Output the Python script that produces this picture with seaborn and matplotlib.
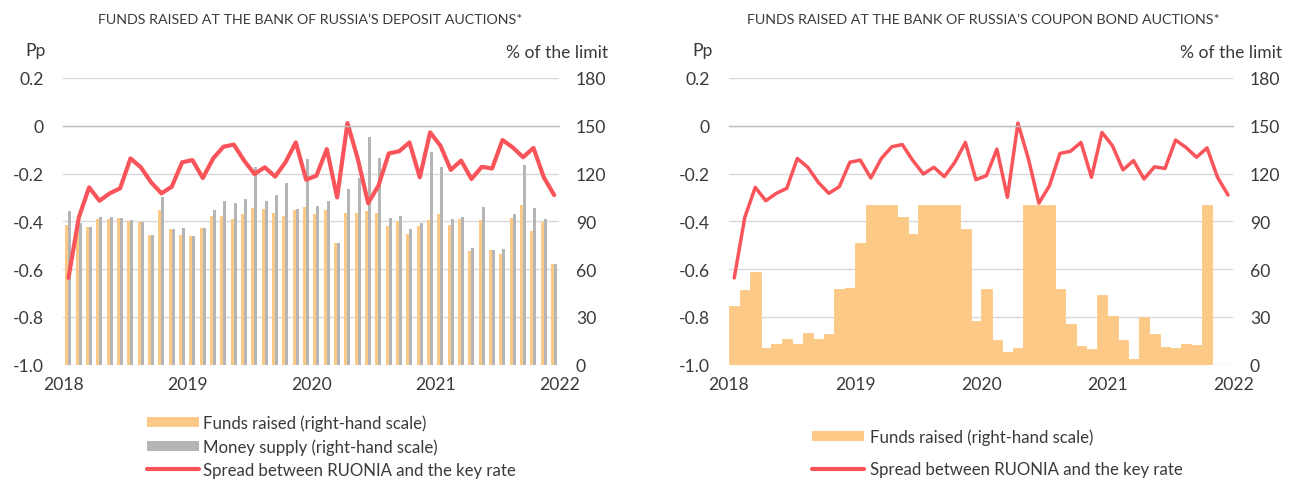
import numpy as np
import pandas as pd
import matplotlib
matplotlib.use("Agg")
import matplotlib.pyplot as plt
from matplotlib.patches import Patch
from matplotlib.lines import Line2D
import seaborn as sns

# ---------------- data ----------------
months = [f"{y}-{m:02d}" for y in range(2018, 2022) for m in range(1, 13)]
year_labels = ["2018", "2019", "2020", "2021", "2022"]

spread = [-0.637, -0.384, -0.258, -0.314, -0.283, -0.262, -0.137, -0.174, -0.237, -0.283, -0.255, -0.153,
          -0.144, -0.219, -0.137, -0.088, -0.079, -0.146, -0.202, -0.174, -0.213, -0.153, -0.070, -0.226,
          -0.209, -0.098, -0.300, 0.011, -0.139, -0.324, -0.251, -0.116, -0.107, -0.070, -0.216, -0.028,
          -0.084, -0.185, -0.146, -0.223, -0.172, -0.179, -0.060, -0.091, -0.132, -0.093, -0.216, -0.290]

deposit_funds = [87.6, 88.0, 86.2, 91.4, 91.4, 92.0, 89.9, 89.3, 81.3, 97.0, 85.1, 81.3,
                 80.9, 85.7, 93.5, 93.1, 91.4, 94.5, 98.1, 97.7, 95.2, 93.5, 97.3, 98.9,
                 94.5, 97.3, 76.1, 94.9, 94.9, 96.4, 95.2, 86.8, 90.4, 82.0, 87.0, 90.6,
                 94.5, 87.6, 91.4, 71.3, 91.0, 72.3, 69.6, 92.0, 100.2, 83.9, 89.7, 62.9]

money_supply = [96.4, 89.0, 86.2, 92.4, 92.4, 92.0, 90.8, 89.3, 81.3, 105.2, 85.1, 85.5,
                80.9, 85.7, 97.3, 102.5, 101.2, 104.0, 124.0, 102.5, 106.7, 114.2, 97.7, 129.3,
                99.6, 102.9, 76.1, 110.0, 117.1, 142.9, 129.7, 91.8, 93.3, 84.9, 88.7, 133.3,
                123.8, 91.4, 92.4, 73.2, 99.1, 72.3, 72.5, 94.7, 125.3, 98.5, 91.4, 62.9]

bond_funds = [37.1, 47.0, 57.9, 10.7, 13.0, 15.9, 13.0, 20.1, 16.4, 19.5, 47.8, 48.0,
              76.4, 100.0, 100.0, 100.0, 92.7, 81.8, 100.0, 100.0, 100.0, 100.0, 85.2, 27.7,
              47.2, 15.7, 8.0, 10.5, 100.0, 100.0, 100.0, 47.8, 25.8, 11.5, 9.8, 43.8,
              30.4, 15.7, 3.6, 30.0, 19.5, 11.1, 10.3, 13.2, 12.6, 100.0, 0.0, 0.0]

left_ticks = [-1.0, -0.8, -0.6, -0.4, -0.2, 0.0, 0.2]
left_tick_labels = ["-1.0", "-0.8", "-0.6", "-0.4", "-0.2", "0", "0.2"]
right_ticks = [0, 30, 60, 90, 120, 150, 180]

title_left = "FUNDS RAISED AT THE BANK OF RUSSIA\u2019S DEPOSIT AUCTIONS*"
title_right = "FUNDS RAISED AT THE BANK OF RUSSIA\u2019S COUPON BOND AUCTIONS*"
lab_funds = "Funds raised (right-hand scale)"
lab_money = "Money supply (right-hand scale)"
lab_spread = "Spread between RUONIA and the key rate"

# ---------------- style ----------------
ORANGE = "#FDC987"
GRAY = "#B5B5B5"
RED = "#F9545A"
TXT = "#3A3A3A"
GRID = "#D9D9D9"
AXLINE = "#BFBFBF"

sns.set_style("white")
plt.rcParams["font.family"] = ["Lato", "DejaVu Sans"]
plt.rcParams["text.color"] = TXT
plt.rcParams["xtick.color"] = TXT
plt.rcParams["ytick.color"] = TXT
FS = 12.6
LFS = 12.1

W, H = 1296, 481
fig = plt.figure(figsize=(W / 100, H / 100), dpi=100)


def px_axes(x0, x1, ytop, ybot):
    return fig.add_axes([x0 / W, 1 - ybot / H, (x1 - x0) / W, (ybot - ytop) / H])


year_pos = [-0.5, 11.5, 23.5, 35.5, 47.5]
xs = np.arange(len(months))


def style_pair(ax, axb):
    # bar axis (right scale) below, line axis (left scale) above
    ax.set_zorder(axb.get_zorder() + 1)
    ax.patch.set_visible(False)
    for a in (ax, axb):
        for s in a.spines.values():
            s.set_visible(False)
    axb.set_ylim(0, 180)
    axb.set_yticks(right_ticks)
    axb.set_yticklabels([str(t) for t in right_ticks], fontsize=FS)
    axb.yaxis.grid(True, color=GRID, linewidth=1)
    axb.xaxis.grid(False)
    axb.set_axisbelow(True)
    axb.tick_params(axis="y", length=0, pad=12, right=True, labelright=True,
                    left=False, labelleft=False)
    axb.set_xlabel("")
    axb.set_ylabel("")

    ax.set_ylim(-1.0, 0.2)
    ax.set_yticks(left_ticks)
    ax.set_yticklabels(left_tick_labels, fontsize=FS)
    ax.tick_params(axis="y", length=0, pad=14, left=True, labelleft=True,
                   right=False, labelright=False)
    ax.set_xlim(-0.5, 47.5)
    ax.set_xticks(year_pos)
    ax.set_xticklabels(year_labels, fontsize=FS)
    ax.spines["bottom"].set_visible(True)
    ax.spines["bottom"].set_position(("data", 0))
    ax.spines["bottom"].set_color(AXLINE)
    ax.spines["bottom"].set_linewidth(1)
    ax.tick_params(axis="x", direction="out", length=5, width=1, color=AXLINE,
                   labelbottom=False)
    axb.xaxis.set_visible(True)
    axb.tick_params(axis="x", length=0, pad=8, bottom=True, labelbottom=True,
                    top=False, labeltop=False, labelsize=FS)
    ax.set_xlabel("")
    ax.set_ylabel("")


# ---------------- left chart ----------------
axL = px_axes(63.3, 559.3, 78.9, 365.7)
axLb = axL.twinx()
df_left = pd.DataFrame({
    "month": months * 2,
    "value": deposit_funds + money_supply,
    "series": [lab_funds] * len(months) + [lab_money] * len(months),
})
sns.barplot(data=df_left, x="month", y="value", hue="series", order=months,
            hue_order=[lab_funds, lab_money], palette=[ORANGE, GRAY],
            width=0.58, saturation=1, errorbar=None, linewidth=0,
            legend=False, ax=axLb)
sns.lineplot(x=xs, y=spread, color=RED, linewidth=3.0, ax=axL)
style_pair(axL, axLb)

# ---------------- right chart ----------------
axR = px_axes(729.0, 1233.3, 78.9, 365.7)
axRb = axR.twinx()
df_right = pd.DataFrame({"month": months, "value": bond_funds})
sns.barplot(data=df_right, x="month", y="value", order=months, color=ORANGE,
            width=1.0, saturation=1, errorbar=None, edgecolor=ORANGE,
            linewidth=0.6, ax=axRb)
sns.lineplot(x=xs, y=spread, color=RED, linewidth=2.5, ax=axR)
style_pair(axR, axRb)

# ---------------- texts ----------------
fig.text(310 / W, 1 - 20 / H, title_left, ha="center", va="center", fontsize=10.3)
fig.text(983 / W, 1 - 20 / H, title_right, ha="center", va="center", fontsize=10.3)
fig.text(36 / W, 1 - 51 / H, "Pp", ha="center", va="center", fontsize=FS)
fig.text(608 / W, 1 - 53 / H, "% of the limit", ha="right", va="center", fontsize=FS)
fig.text(703 / W, 1 - 51 / H, "Pp", ha="center", va="center", fontsize=FS)
fig.text(1282 / W, 1 - 53 / H, "% of the limit", ha="right", va="center", fontsize=FS)

# ---------------- legends ----------------
hL = [Patch(facecolor=ORANGE, edgecolor="none"),
      Patch(facecolor=GRAY, edgecolor="none"),
      Line2D([0], [0], color=RED, linewidth=3)]
fig.legend(hL, [lab_funds, lab_money, lab_spread], loc="upper left",
           bbox_to_anchor=(147 / W, 1 - 415 / H), frameon=False, borderpad=0,
           borderaxespad=0, handlelength=3.1, handleheight=0.55,
           handletextpad=0.25, labelspacing=0.44, fontsize=LFS)
hR = [Patch(facecolor=ORANGE, edgecolor="none"),
      Line2D([0], [0], color=RED, linewidth=3)]
fig.legend(hR, [lab_funds, lab_spread], loc="upper left",
           bbox_to_anchor=(812 / W, 1 - 429 / H), frameon=False, borderpad=0,
           borderaxespad=0, handlelength=3.1, handleheight=0.55,
           handletextpad=0.35, labelspacing=0.98, fontsize=LFS)

fig.savefig("out.png", dpi=100)
